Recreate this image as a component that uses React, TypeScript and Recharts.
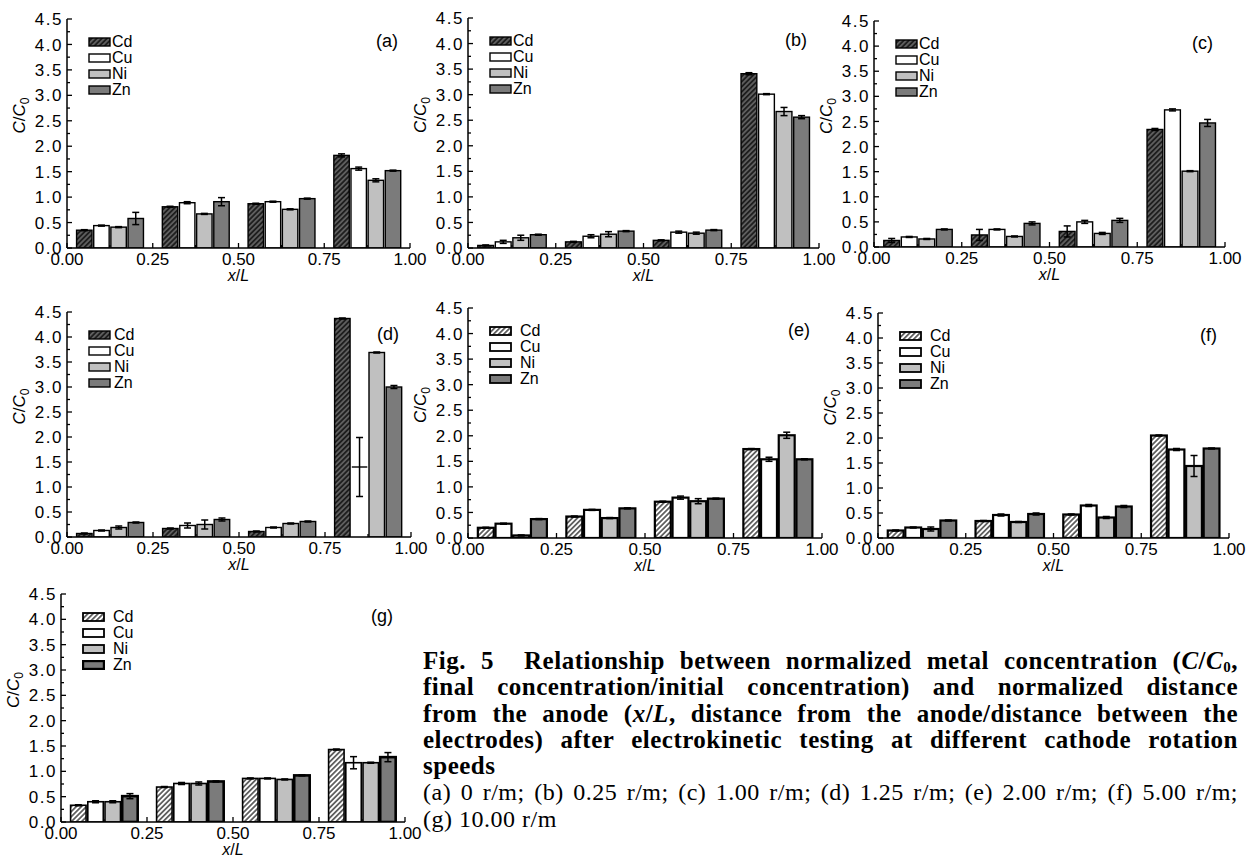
import React from "react";
import { ComposedChart, Bar, XAxis, YAxis, ErrorBar, Label } from "recharts";

const METALS = ["Cd", "Cu", "Ni", "Zn"];

// bar centres along x/L: four sections, four metals in each (Cd, Cu, Ni, Zn)
const BAR_X = [0.05, 0.1, 0.15, 0.2, 0.3, 0.35, 0.4, 0.45, 0.55, 0.6, 0.65, 0.7, 0.8, 0.85, 0.9, 0.95];
const X_TICKS = [0, 0.125, 0.25, 0.375, 0.5, 0.625, 0.75, 0.875, 1];
const Y_TICKS = [0, 0.25, 0.5, 0.75, 1, 1.25, 1.5, 1.75, 2, 2.25, 2.5, 2.75, 3, 3.25, 3.5, 3.75, 4, 4.25, 4.5];

// rows: Cd, Cu, Ni, Zn  /  columns: the four sections from anode to cathode
const valuesA = [
  [0.35, 0.81, 0.87, 1.82],
  [0.44, 0.89, 0.91, 1.56],
  [0.41, 0.67, 0.76, 1.33],
  [0.58, 0.91, 0.97, 1.52],
];
const errorsA = [
  [0.01, 0.01, 0.01, 0.03],
  [0.01, 0.02, 0.01, 0.03],
  [0.01, 0.01, 0.01, 0.03],
  [0.12, 0.08, 0.01, 0.01],
];

const valuesB = [
  [0.05, 0.12, 0.15, 3.41],
  [0.12, 0.23, 0.31, 3.01],
  [0.2, 0.27, 0.29, 2.67],
  [0.26, 0.33, 0.35, 2.56],
];
const errorsB = [
  [0.01, 0.01, 0.01, 0.02],
  [0.03, 0.03, 0.02, 0.01],
  [0.05, 0.05, 0.02, 0.08],
  [0.01, 0.01, 0.01, 0.03],
];

const valuesC = [
  [0.13, 0.24, 0.31, 2.34],
  [0.2, 0.35, 0.5, 2.73],
  [0.16, 0.21, 0.27, 1.51],
  [0.35, 0.47, 0.53, 2.47],
];
const errorsC = [
  [0.04, 0.11, 0.11, 0.02],
  [0.01, 0.01, 0.03, 0.02],
  [0.01, 0.01, 0.02, 0.01],
  [0.01, 0.03, 0.04, 0.07],
];

const valuesD = [
  [0.07, 0.17, 0.11, 4.37],
  [0.13, 0.23, 0.19, 1.4],
  [0.19, 0.25, 0.27, 3.69],
  [0.29, 0.35, 0.31, 3.0],
];
const errorsD = [
  [0.01, 0.01, 0.01, 0.01],
  [0.01, 0.05, 0.01, 0.59],
  [0.03, 0.09, 0.01, 0.01],
  [0.01, 0.03, 0.01, 0.03],
];

const valuesE = [
  [0.2, 0.42, 0.71, 1.74],
  [0.28, 0.55, 0.79, 1.54],
  [0.05, 0.39, 0.72, 2.01],
  [0.37, 0.58, 0.77, 1.54],
];
const errorsE = [
  [0.01, 0.01, 0.01, 0.01],
  [0.01, 0.01, 0.03, 0.04],
  [0.01, 0.01, 0.05, 0.06],
  [0.01, 0.01, 0.01, 0.01],
];

const valuesF = [
  [0.15, 0.34, 0.47, 2.05],
  [0.21, 0.46, 0.65, 1.77],
  [0.18, 0.32, 0.41, 1.44],
  [0.35, 0.48, 0.63, 1.79],
];
const errorsF = [
  [0.01, 0.01, 0.01, 0.01],
  [0.01, 0.02, 0.02, 0.02],
  [0.04, 0.01, 0.02, 0.21],
  [0.01, 0.02, 0.02, 0.01],
];

const valuesG = [
  [0.33, 0.69, 0.86, 1.43],
  [0.4, 0.76, 0.86, 1.17],
  [0.4, 0.76, 0.84, 1.17],
  [0.51, 0.8, 0.92, 1.28],
];
const errorsG = [
  [0.01, 0.01, 0.01, 0.01],
  [0.02, 0.02, 0.01, 0.12],
  [0.02, 0.03, 0.01, 0.01],
  [0.05, 0.01, 0.01, 0.09],
];

const SANS = "'Liberation Sans', Arial, sans-serif";
const SERIF = "'Liberation Serif', 'Times New Roman', serif";

type Panel = {
  id: string;
  left: number;
  top: number;
  w: number;
  h: number;
  values: number[][];
  errors: number[][];
  lightHatch: boolean;
  stroke: number;
  znStroke?: number;
  legendGap: number;
  open?: [number, number];
};

const PANELS: Panel[] = [
  { id: "a", left: 67, top: 19, w: 343, h: 229, values: valuesA, errors: errorsA, lightHatch: false, stroke: 1.4, legendGap: 1 },
  { id: "b", left: 468, top: 18, w: 351, h: 230, values: valuesB, errors: errorsB, lightHatch: false, stroke: 1.4, legendGap: 1 },
  { id: "c", left: 874, top: 21, w: 351, h: 226, values: valuesC, errors: errorsC, lightHatch: false, stroke: 1.4, legendGap: 1 },
  { id: "d", left: 67, top: 312, w: 344, h: 225, values: valuesD, errors: errorsD, lightHatch: false, stroke: 1.4, legendGap: 3, open: [3, 1] },
  { id: "e", left: 468, top: 308, w: 354, h: 230, values: valuesE, errors: errorsE, lightHatch: true, stroke: 2.2, legendGap: 8 },
  { id: "f", left: 878, top: 313, w: 351, h: 225, values: valuesF, errors: errorsF, lightHatch: true, stroke: 2.2, legendGap: 8 },
  { id: "g", left: 61, top: 594, w: 344, h: 228, values: valuesG, errors: errorsG, lightHatch: true, stroke: 1.6, znStroke: 2.6, legendGap: 8 },
];

const fillFor = (p: Panel, m: number) =>
  m === 0 ? `url(#hatch-${p.id})` : m === 1 ? "#ffffff" : m === 2 ? "#c0c0c0" : "#7b7b7b";

const isMajor = (v: number, step: number) => Math.abs(v / step - Math.round(v / step)) < 1e-6;

const XTick = (props: any) => {
  const { x, y, payload, side } = props;
  const v = payload.value;
  const major = isMajor(v, 0.25);
  const len = major ? 5 : 3;
  const dir = side === "bottom" ? -1 : 1;
  return (
    <g>
      <line x1={x} x2={x} y1={y} y2={y + dir * len} stroke="#000" strokeWidth={1.3} />
      {side === "bottom" && major && (
        <text x={x} y={y + 17} textAnchor="middle" fontSize={17} fontFamily={SANS} fill="#000">
          {v.toFixed(2)}
        </text>
      )}
    </g>
  );
};

const YTick = (props: any) => {
  const { x, y, payload, side } = props;
  const v = payload.value;
  const major = isMajor(v, 0.5);
  const len = major ? 5 : 3;
  const dir = side === "left" ? 1 : -1;
  return (
    <g>
      <line x1={x} x2={x + dir * len} y1={y} y2={y} stroke="#000" strokeWidth={1.3} />
      {side === "left" && major && (
        <text x={x - 4} y={y} dy="0.36em" textAnchor="end" fontSize={17} fontFamily={SANS} fill="#000" letterSpacing={1.5}>
          {v.toFixed(1)}
        </text>
      )}
    </g>
  );
};

const Hatch = ({ p }: { p: Panel }) => (
  <pattern id={`hatch-${p.id}`} patternUnits="userSpaceOnUse" width={3.6} height={3.6} patternTransform="rotate(45)">
    <rect width={3.6} height={3.6} fill={p.lightHatch ? "#ffffff" : "#1e1e1e"} />
    <line x1={1.8} y1={0} x2={1.8} y2={3.6} stroke={p.lightHatch ? "#111" : "#b8b8b8"} strokeWidth={p.lightHatch ? 1.2 : 0.75} />
  </pattern>
);

const PanelChart = ({ p }: { p: Panel }) => {
  const data: any[] = [];
  for (let g = 0; g < 4; g++) {
    for (let m = 0; m < 4; m++) {
      data.push({
        x: BAR_X[g * 4 + m],
        v: p.values[m][g],
        err: p.errors[m][g],
        metal: m,
        open: !!p.open && p.open[0] === g && p.open[1] === m,
      });
    }
  }

  const shape = (props: any) => {
    const { x, y, width, height, payload } = props;
    if (payload.open) {
      return <line x1={x} x2={x + width} y1={y} y2={y} stroke="#000" strokeWidth={1.4} />;
    }
    const sw = payload.metal === 3 && p.znStroke ? p.znStroke : p.stroke;
    return (
      <rect x={x} y={y} width={width} height={height} fill={fillFor(p, payload.metal)} stroke="#000" strokeWidth={sw} />
    );
  };

  const ML = 60;
  const MT = 10;
  const MR = 24;
  const chartW = p.w + ML + MR;
  const chartH = p.h + MT + 42;

  return (
    <div style={{ position: "absolute", left: p.left - ML, top: p.top - MT, width: chartW, height: chartH }}>
      <ComposedChart width={chartW} height={chartH} data={data} margin={{ top: MT, right: MR, bottom: 0, left: 0 }}>
        <defs>
          <Hatch p={p} />
        </defs>
        <XAxis
          xAxisId="b"
          type="number"
          dataKey="x"
          domain={[0, 1]}
          allowDataOverflow
          ticks={X_TICKS}
          interval={0}
          tickLine={false}
          tickSize={0}
          tickMargin={0}
          tick={<XTick side="bottom" />}
          axisLine={{ stroke: "#000", strokeWidth: 1.5 }}
          height={42}
        >
          <Label
            content={(lp: any) => {
              const vb = lp.viewBox;
              return (
                <text x={vb.x + vb.width / 2} y={vb.y + 33} textAnchor="middle" fontSize={16} fontFamily={SANS} fill="#000">
                  <tspan fontStyle="italic">x</tspan>/<tspan fontStyle="italic">L</tspan>
                </text>
              );
            }}
          />
        </XAxis>
        <XAxis
          xAxisId="t"
          orientation="top"
          type="number"
          dataKey="x"
          domain={[0, 1]}
          allowDataOverflow
          ticks={X_TICKS}
          interval={0}
          tickLine={false}
          tickSize={0}
          tickMargin={0}
          tick={<XTick side="top" />}
          axisLine={{ stroke: "#000", strokeWidth: 1.5 }}
          height={0}
        />
        <YAxis
          yAxisId="l"
          type="number"
          domain={[0, 4.5]}
          allowDataOverflow
          ticks={Y_TICKS}
          interval={0}
          tickLine={false}
          tickSize={0}
          tickMargin={0}
          tick={<YTick side="left" />}
          axisLine={{ stroke: "#000", strokeWidth: 1.5 }}
          width={ML}
        >
          <Label
            content={(lp: any) => {
              const vb = lp.viewBox;
              const cx = vb.x + vb.width - 42;
              const cy = vb.y + vb.height / 2 - 18;
              return (
                <text
                  x={cx}
                  y={cy}
                  transform={`rotate(-90 ${cx} ${cy})`}
                  textAnchor="middle"
                  fontSize={17}
                  fontFamily={SANS}
                  fill="#000"
                >
                  <tspan fontStyle="italic">C</tspan>/<tspan fontStyle="italic">C</tspan>
                  <tspan fontSize={12} dy={4}>0</tspan>
                </text>
              );
            }}
          />
        </YAxis>
        <YAxis
          yAxisId="r"
          orientation="right"
          type="number"
          domain={[0, 4.5]}
          allowDataOverflow
          ticks={Y_TICKS}
          interval={0}
          tickLine={false}
          tickSize={0}
          tickMargin={0}
          tick={<YTick side="right" />}
          axisLine={{ stroke: "#000", strokeWidth: 1.5 }}
          width={0}
        />
        <Bar
          xAxisId="b"
          yAxisId="l"
          dataKey="v"
          barSize={p.w * 0.05}
          shape={shape}
          isAnimationActive={false}
        >
          <ErrorBar dataKey="err" direction="y" width={3.5} stroke="#000" strokeWidth={1.5} />
        </Bar>
      </ComposedChart>

      {/* legend in the upper left of the frame */}
      <div style={{ position: "absolute", left: ML + 21, top: MT + 15, fontFamily: SANS, fontSize: 16, lineHeight: "16px" }}>
        {METALS.map((name, m) => (
          <div key={name} style={{ display: "flex", alignItems: "center", height: 16 }}>
            <svg width={23} height={10} style={{ display: "block" }}>
              <defs>
                <Hatch p={p} />
              </defs>
              <rect
                x={1}
                y={1}
                width={21}
                height={8}
                fill={fillFor(p, m)}
                stroke="#000"
                strokeWidth={m === 3 && p.znStroke ? 2.4 : p.lightHatch ? 1.8 : 1.4}
              />
            </svg>
            <span style={{ marginLeft: p.legendGap, color: "#000" }}>{name}</span>
          </div>
        ))}
      </div>

      {/* panel tag */}
      <div
        style={{
          position: "absolute",
          right: MR + 12,
          top: MT + 12,
          fontFamily: SANS,
          fontSize: 18,
          color: "#000",
        }}
      >
        ({p.id})
      </div>
    </div>
  );
};

const LINE_H = 26.3;

const lineStyle: React.CSSProperties = {
  textAlign: "justify",
  textAlignLast: "justify",
  whiteSpace: "nowrap",
  height: LINE_H,
};

const Caption = () => (
  <div
    style={{
      position: "absolute",
      left: 423,
      top: 648,
      width: 815,
      fontFamily: SERIF,
      fontSize: 25,
      letterSpacing: 0.5,
      lineHeight: `${LINE_H}px`,
      color: "#000",
    }}
  >
    <div style={{ fontWeight: 700 }}>
      <div style={lineStyle}>
        Fig. 5&nbsp; Relationship between normalized metal concentration (<i>C</i>/<i>C</i>
        <sub style={{ fontSize: 15, verticalAlign: "-3px", lineHeight: 0 }}>0</sub>,
      </div>
      <div style={lineStyle}>final concentration/initial concentration) and normalized distance</div>
      <div style={lineStyle}>
        from the anode (<i>x</i>/<i>L</i>, distance from the anode/distance between the
      </div>
      <div style={lineStyle}>electrodes) after electrokinetic testing at different cathode rotation</div>
      <div style={{ height: LINE_H }}>speeds</div>
    </div>
    <div style={{ fontSize: 24 }}>
      <div style={lineStyle}>
        (a) 0 r/m; (b) 0.25 r/m; (c) 1.00 r/m; (d) 1.25 r/m; (e) 2.00 r/m; (f) 5.00 r/m;
      </div>
      <div>(g) 10.00 r/m</div>
    </div>
  </div>
);

export default function App() {
  return (
    <div style={{ position: "absolute", left: 0, top: 0, width: 1254, height: 859, background: "#fff", overflow: "hidden" }}>
      {PANELS.map((p) => (
        <PanelChart key={p.id} p={p} />
      ))}
      <Caption />
    </div>
  );
}
